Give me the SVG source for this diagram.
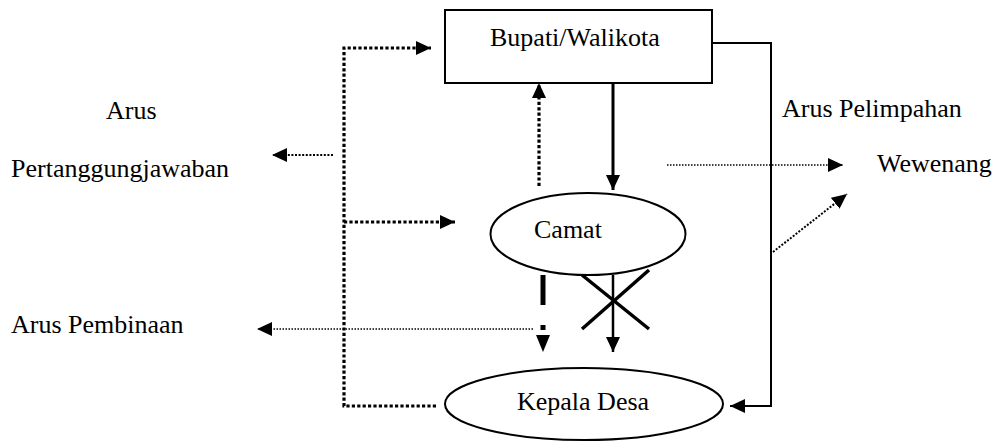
<svg xmlns="http://www.w3.org/2000/svg" width="998" height="441" viewBox="0 0 998 441">
<style>
  text { font-family: "Liberation Serif", "Times New Roman", serif; font-size: 26px; fill: #000; }
  .node { fill: #fff; stroke: #000; stroke-width: 2; }
  .thickdot { fill: none; stroke: #000; stroke-width: 3.2; stroke-dasharray: 3.2 2.2; }
  .meddot { fill: none; stroke: #000; stroke-width: 2; stroke-dasharray: 2 1.6; }
  .thindot { fill: none; stroke: #000; stroke-width: 1.5; stroke-dasharray: 1.5 1.5; }
  .solid { fill: none; stroke: #000; }
</style>
<defs>
  <marker id="ah" markerUnits="userSpaceOnUse" markerWidth="15" markerHeight="14" refX="15" refY="7" orient="auto">
    <path d="M0,0 L15,7 L0,14 z" fill="#000"/>
  </marker>
</defs>
<rect width="998" height="441" fill="#fff"/>

<g id="connectors">
  <path class="thickdot" d="M436,406 H344 V48 H431" marker-end="url(#ah)"/>
  <path class="thickdot" d="M344,222 H455" marker-end="url(#ah)"/>
  <path class="meddot" d="M333,155 H272" marker-end="url(#ah)"/>
  <path class="thickdot" d="M539,186 V83" marker-end="url(#ah)"/>
  <path class="solid" stroke-width="3" d="M613,83 V190" marker-end="url(#ah)"/>
  <path class="solid" stroke-width="2" d="M712,43 H771 V406 H730" marker-end="url(#ah)"/>
  <path class="thindot" d="M667,165 H843" marker-end="url(#ah)"/>
  <path class="meddot" d="M773,252 L847,194" marker-end="url(#ah)"/>
  <path class="thindot" d="M533,329 H257" marker-end="url(#ah)"/>
  <line x1="543" y1="275" x2="543" y2="305" stroke="#000" stroke-width="5"/>
  <line x1="543" y1="325" x2="543" y2="330" stroke="#000" stroke-width="5"/>
  <polygon points="536,335 550,335 543,352" fill="#000"/>
  <path class="solid" stroke-width="2.5" d="M613,275 V352" marker-end="url(#ah)"/>
  <line x1="582" y1="275" x2="649" y2="329" stroke="#000" stroke-width="3.5"/>
  <line x1="649" y1="270" x2="582" y2="329" stroke="#000" stroke-width="3.5"/>
</g>

<g id="bupati">
  <rect class="node" x="445" y="10" width="267" height="73"/>
  <text x="490" y="46">Bupati/Walikota</text>
</g>
<g id="camat">
  <ellipse class="node" cx="588" cy="234" rx="97.5" ry="41"/>
  <text x="534" y="238">Camat</text>
</g>
<g id="kepala-desa">
  <ellipse class="node" cx="584" cy="404" rx="139" ry="36"/>
  <text x="517" y="410">Kepala Desa</text>
</g>

<g id="labels">
  <text x="106" y="119">Arus</text>
  <text x="11" y="177">Pertanggungjawaban</text>
  <text x="11" y="333">Arus Pembinaan</text>
  <text x="782" y="117">Arus Pelimpahan</text>
  <text x="877" y="172">Wewenang</text>
</g>
</svg>
